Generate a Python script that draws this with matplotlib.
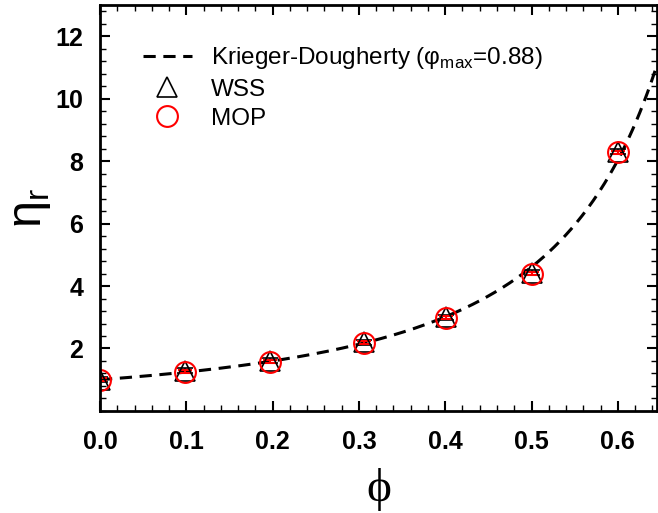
import numpy as np
import matplotlib
matplotlib.use("Agg")
import matplotlib.pyplot as plt
from matplotlib.lines import Line2D

phi = [0.0, 0.098, 0.197, 0.306, 0.401, 0.5, 0.6]
eta_wss = [1.0, 1.28, 1.60, 2.20, 3.00, 4.42, 8.30]
eta_mop = [1.0, 1.26, 1.58, 2.18, 2.98, 4.40, 8.28]
err_wss = [0.08, 0.08, 0.08, 0.08, 0.08, 0.08, 0.08]
err_mop = [0.05, 0.05, 0.05, 0.05, 0.05, 0.05, 0.05]

# Krieger-Dougherty model parameters
phi_max = 0.88
kd_exp = 1.82

plt.rcParams['font.family'] = ['Liberation Sans', 'DejaVu Sans']
plt.rcParams['mathtext.fontset'] = 'custom'
plt.rcParams['mathtext.rm'] = 'Liberation Sans'

fig = plt.figure(figsize=(6.58, 5.13), dpi=100)
ax = fig.add_axes([0.152, 0.199, 0.846, 0.791])

phi_line = np.linspace(0, 0.645, 300)
eta_line = (1 - phi_line / phi_max) ** (-kd_exp)
ax.plot(phi_line, eta_line, 'k--', lw=2.2, dashes=(4, 2.5))

ax.errorbar(phi, eta_wss, yerr=err_wss, fmt='^', ms=14, mfc='none', mec='k', mew=1.2,
            ecolor='k', elinewidth=1.2, capsize=6, capthick=1.2)
ax.errorbar(phi, eta_mop, yerr=err_mop, fmt='o', ms=15, mfc='none', mec='red', mew=1.5,
            ecolor='red', elinewidth=1.5, capsize=5, capthick=1.5)

ax.set_xlim(0, 0.645)
ax.set_ylim(0, 13)
ax.set_xticks([0.0, 0.1, 0.2, 0.3, 0.4, 0.5, 0.6])
ax.set_yticks([2, 4, 6, 8, 10, 12])
ax.set_xticks(np.arange(0, 0.645, 0.02), minor=True)
ax.set_yticks(np.arange(0, 13.01, 0.4), minor=True)
ax.tick_params(which='both', direction='in', top=True, right=True, width=1.5)
ax.tick_params(which='major', length=7, labelsize=18)
ax.tick_params(axis='x', which='major', pad=14)
ax.tick_params(axis='y', which='major', pad=12)
ax.tick_params(which='minor', length=4, width=1)
for lab in ax.get_xticklabels() + ax.get_yticklabels():
    lab.set_fontweight('bold')
for s in ax.spines.values():
    s.set_linewidth(2)

ax.set_xlabel('ϕ', family=['Liberation Serif', 'DejaVu Serif'], fontsize=34, labelpad=10)
ax.set_ylabel('η$_{\\rm r}$', fontsize=35, labelpad=2)

handles = [
    Line2D([], [], color='k', ls='--', lw=2.2, dashes=(4, 2.5)),
    Line2D([], [], ls='none', marker='^', ms=14, mfc='none', mec='k', mew=1.2),
    Line2D([], [], ls='none', marker='o', ms=15, mfc='none', mec='red', mew=1.5),
]
labels = ['Krieger-Dougherty (φ$_{\\rm max}$=0.88)', 'WSS', 'MOP']
ax.legend(handles, labels, loc='upper left', frameon=False, fontsize=17.5,
          bbox_to_anchor=(0.06, 0.925), handlelength=2.0, labelspacing=0.3,
          handletextpad=0.8, borderaxespad=0)

fig.savefig('out.png', dpi=100)
